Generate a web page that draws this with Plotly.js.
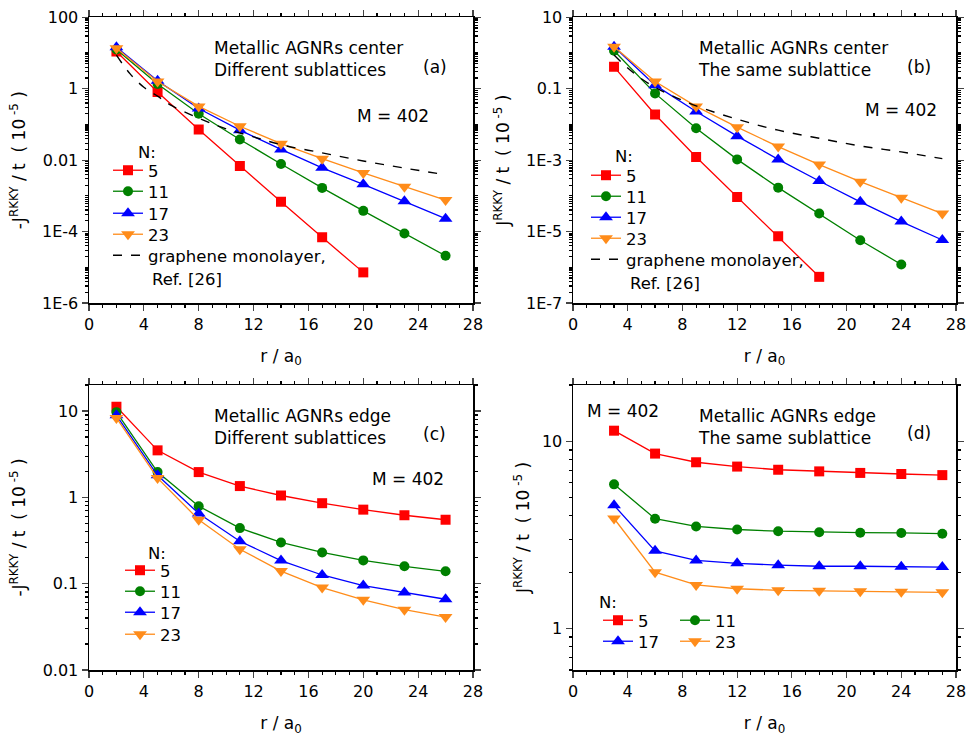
<!DOCTYPE html>
<html>
<head>
<meta charset="utf-8">
<script src="https://cdn.plot.ly/plotly-3.0.1.min.js"></script>
<style>html,body{margin:0;padding:0;background:#fff;}#chart{width:968px;height:736px;}</style>
</head>
<body>
<div id="chart"></div>
<script>
// ---------- Data ----------
const seriesNames = ['5', '11', '17', '23'];
const seriesColors = ['#FF0000', '#008000', '#0000FF', '#FF8C1A'];
const seriesSymbols = ['square', 'circle', 'triangle-up', 'triangle-down'];

// Panel (a): center, different sublattices
const rA = [2, 5, 8, 11, 14, 17, 20, 23, 26];
const a_N5  = [11.0, 0.81, 0.072, 0.0069, 6.8e-4, 6.9e-5, 7.2e-6];
const a_N11 = [12.6, 1.35, 0.20, 0.038, 0.0078, 0.00167, 3.8e-4, 8.8e-5, 2.1e-5];
const a_N17 = [14.4, 1.67, 0.28, 0.069, 0.020, 0.0061, 0.0021, 7.1e-4, 2.3e-4];
const a_N23 = [13.5, 1.60, 0.32, 0.089, 0.029, 0.011, 0.0044, 0.0018, 7.6e-4];
const rA_graphene = [2, 3, 4, 5, 6, 8, 10, 12, 14, 17, 20, 23, 26];
const a_graphene  = [8.7, 2.6, 1.1, 0.62, 0.34, 0.15, 0.075, 0.045, 0.027, 0.016, 0.0095, 0.006, 0.0039];

// Panel (b): center, same sublattice
const rB = [3, 6, 9, 12, 15, 18, 21, 24, 27];
const b_N5  = [0.41, 0.019, 0.00123, 9.3e-5, 7.4e-6, 5.4e-7];
const b_N11 = [1.16, 0.074, 0.0078, 0.00105, 1.7e-4, 3.2e-5, 5.7e-6, 1.2e-6];
const b_N17 = [1.5, 0.126, 0.023, 0.0047, 0.00105, 2.6e-4, 6.8e-5, 1.9e-5, 5.8e-6];
const b_N23 = [1.5, 0.16, 0.032, 0.0084, 0.0024, 7.5e-4, 2.5e-4, 8.8e-5, 3.2e-5];
const rB_graphene = [3, 4, 5, 6, 7, 9, 12, 15, 18, 21, 24, 27];
const b_graphene  = [0.88, 0.38, 0.19, 0.11, 0.07, 0.033, 0.014, 0.0069, 0.0041, 0.0025, 0.0017, 0.0011];

// Panel (c): edge, different sublattices
const rC = [2, 5, 8, 11, 14, 17, 20, 23, 26];
const c_N5  = [11.2, 3.5, 1.96, 1.35, 1.05, 0.855, 0.72, 0.62, 0.55];
const c_N11 = [9.7, 1.96, 0.79, 0.44, 0.30, 0.23, 0.186, 0.159, 0.139];
const c_N17 = [8.9, 1.80, 0.65, 0.31, 0.185, 0.126, 0.095, 0.079, 0.066];
const c_N23 = [8.3, 1.67, 0.55, 0.25, 0.14, 0.090, 0.065, 0.050, 0.041];

// Panel (d): edge, same sublattice
const rD = [3, 6, 9, 12, 15, 18, 21, 24, 27];
const d_N5  = [11.4, 8.6, 7.73, 7.33, 7.05, 6.91, 6.78, 6.69, 6.6];
const d_N11 = [5.89, 3.86, 3.51, 3.38, 3.31, 3.27, 3.25, 3.24, 3.21];
const d_N17 = [4.55, 2.6, 2.31, 2.23, 2.18, 2.15, 2.15, 2.14, 2.13];
const d_N23 = [3.87, 2.0, 1.71, 1.63, 1.60, 1.59, 1.58, 1.57, 1.56];

// Tick labels
const xTickVals = [0, 4, 8, 12, 16, 20, 24, 28];
const aTickVals = [100, 1, 0.01, 1e-4, 1e-6];
const aTickText = ['100', '1', '0.01', '1E-4', '1E-6'];
const bTickVals = [10, 0.1, 1e-3, 1e-5, 1e-7];
const bTickText = ['10', '0.1', '1E-3', '1E-5', '1E-7'];
const cTickVals = [10, 1, 0.1, 0.01];
const cTickText = ['10', '1', '0.1', '0.01'];
const dTickVals = [10, 1];
const dTickText = ['10', '1'];

const grapheneLabel = 'graphene monolayer,';
const refLabel = 'Ref. [26]';
const xTitle = 'r / a<sub>0</sub>';
const yTitleNeg = '-J<sup>RKKY</sup> / t  ( 10<sup> -5</sup> )';
const yTitlePos = 'J<sup>RKKY</sup> / t  ( 10<sup> -5</sup> )';

// ---------- Layout helpers ----------
const W = 968, H = 736;
const px = v => v / W, py = v => 1 - v / H;
const FONT = 'DejaVu Sans, Liberation Sans, Arial, sans-serif';
const legFont = {family: FONT, size: 16.5, color: '#000'};

// legend entry positions (px): [left, item centre y]
const legendPos = [
  [108, 173], [108, 194], [108, 216], [108, 237], [108, 258],   // (a)
  [586, 178], [586, 199], [586, 220], [586, 241], [586, 262],   // (b)
  [120, 573], [120, 594], [120, 615], [120, 637],               // (c)
  [598, 623], [675, 623], [598, 644], [675, 644]                // (d)
];
const layoutLegends = {};
let legIdx = 0;
function nextLegend() {
  const p = legendPos[legIdx];
  const key = legIdx === 0 ? 'legend' : 'legend' + (legIdx + 1);
  layoutLegends[key] = {x: px(p[0]), y: py(p[1] - 20), xanchor: 'left', yanchor: 'top',
    bgcolor: 'rgba(0,0,0,0)', borderwidth: 0, font: legFont, orientation: 'v'};
  legIdx++;
  return key;
}

// ---------- Build traces ----------
function mk(x, y, i, xa, ya) {
  return {
    x: x.slice(0, y.length), y: y, xaxis: xa, yaxis: ya, legend: nextLegend(),
    name: seriesNames[i], type: 'scatter', mode: 'lines+markers',
    line: {color: seriesColors[i], width: 1.3},
    marker: {color: seriesColors[i], symbol: seriesSymbols[i], size: i >= 2 ? 12 : 10},
    showlegend: true
  };
}
function gr(x, y, xa, ya) {
  return {x: x, y: y, xaxis: xa, yaxis: ya, legend: nextLegend(), name: grapheneLabel,
    type: 'scatter', mode: 'lines', line: {color: '#000', width: 1.4, dash: 'dash', shape: 'spline'}};
}
const A = [a_N5, a_N11, a_N17, a_N23];
const B = [b_N5, b_N11, b_N17, b_N23];
const C = [c_N5, c_N11, c_N17, c_N23];
const D = [d_N5, d_N11, d_N17, d_N23];
const traces = [];
A.forEach((s, i) => traces.push(mk(rA, s, i, 'x', 'y')));
traces.push(gr(rA_graphene, a_graphene, 'x', 'y'));
B.forEach((s, i) => traces.push(mk(rB, s, i, 'x2', 'y2')));
traces.push(gr(rB_graphene, b_graphene, 'x2', 'y2'));
C.forEach((s, i) => traces.push(mk(rC, s, i, 'x3', 'y3')));
D.forEach((s, i) => traces.push(mk(rD, s, i, 'x4', 'y4')));

// ---------- Layout ----------
const tickFont = {family: FONT, size: 16, color: '#000'};
function xax(dom, anchor, standoff) {
  return {domain: dom, anchor: anchor, range: [0, 28], tickvals: xTickVals, ticks: 'outside', ticklen: 6,
    tickwidth: 1.2, showline: true, linecolor: '#000', linewidth: 1.5, mirror: 'allticks',
    showgrid: false, zeroline: false, tickfont: tickFont,
    minor: {dtick: 1, tick0: 0, ticks: 'outside', ticklen: 3, tickcolor: '#000', showgrid: false},
    title: {text: xTitle, font: {family: FONT, size: 17, color: '#000'}, standoff: standoff}};
}
function yax(dom, anchor, range, tv, tt, title, standoff) {
  return {domain: dom, anchor: anchor, type: 'log', range: range, tickvals: tv, ticktext: tt,
    ticks: 'outside', ticklen: 6, tickwidth: 1.2, showline: true, linecolor: '#000', linewidth: 1.5,
    mirror: 'allticks', showgrid: false, zeroline: false, tickfont: tickFont,
    minor: {dtick: 'D1', ticks: 'outside', ticklen: 3, tickcolor: '#000', showgrid: false},
    title: {text: title, font: {family: FONT, size: 17, color: '#000'}, standoff: standoff}};
}
const xL = [px(89), px(473)], xR = [px(573), px(956)];
const yT = [py(303), py(17.3)], yB = [py(670), py(385)];

function ann(text, x, y, size) {
  return {text: text, x: px(x), y: py(y), xref: 'paper', yref: 'paper', showarrow: false,
    xanchor: 'left', yanchor: 'middle', align: 'left',
    font: {family: FONT, size: size || 17, color: '#000'}};
}
const annotations = [
  ann('Metallic AGNRs center<br>Different sublattices', 212, 59.5),
  ann('(a)', 421, 67), ann('M = 402', 355, 116),
  ann('Metallic AGNRs center<br>The same sublattice', 696, 59.5),
  ann('(b)', 905, 67), ann('M = 402', 863, 110),
  ann('Metallic AGNRs edge<br>Different sublattices', 212, 427.5),
  ann('(c)', 421, 434), ann('M = 402', 370, 479),
  ann('M = 402', 585, 411),
  ann('Metallic AGNRs edge<br>The same sublattice', 696, 427.5),
  ann('(d)', 905, 433),
  ann('N:', 136, 153, 16.5), ann('N:', 613, 157, 16.5), ann('N:', 146, 553, 16.5), ann('N:', 597, 602, 16.5),
  ann(refLabel, 150, 279, 16.5), ann(refLabel, 628, 283, 16.5)
];

const layout = Object.assign({
  width: W, height: H, margin: {l: 0, r: 0, t: 0, b: 0},
  paper_bgcolor: '#fff', plot_bgcolor: '#fff',
  font: {family: FONT, color: '#000'},
  xaxis: xax(xL, 'y', 17), yaxis: yax(yT, 'x', [-6, 2], aTickVals, aTickText, yTitleNeg, 12),
  xaxis2: xax(xR, 'y2', 17), yaxis2: yax(yT, 'x2', [-7, 1], bTickVals, bTickText, yTitlePos, 12),
  xaxis3: xax(xL, 'y3', 22), yaxis3: yax(yB, 'x3', [-2, Math.log10(20)], cTickVals, cTickText, yTitleNeg, 12),
  xaxis4: xax(xR, 'y4', 22), yaxis4: yax(yB, 'x4', [Math.log10(0.6), Math.log10(20)], dTickVals, dTickText, yTitlePos, 8),
  annotations: annotations
}, layoutLegends);
Plotly.newPlot('chart', traces, layout, {displayModeBar: false, staticPlot: true});
</script>
</body>
</html>
